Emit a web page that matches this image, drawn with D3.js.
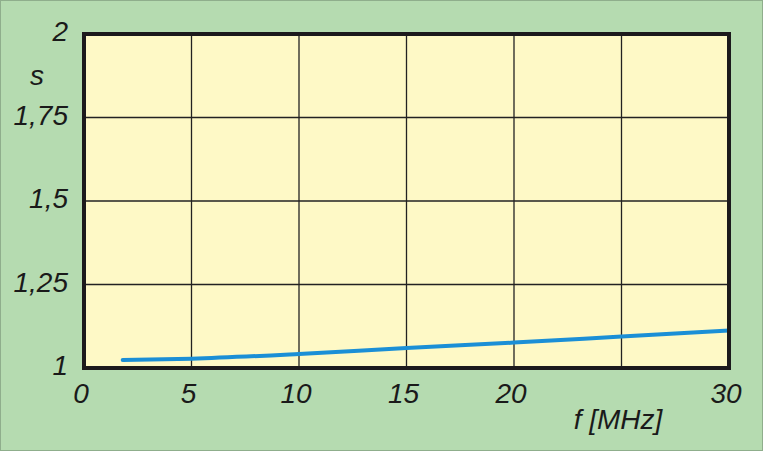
<!DOCTYPE html>
<html><head><meta charset="utf-8">
<script src="https://cdn.jsdelivr.net/npm/d3@7"></script>
<style>
html,body{margin:0;padding:0;background:#fff;}
svg{display:block;}
text{font-family:"Liberation Sans",Arial,sans-serif;font-style:italic;fill:#1a1a1a;}
</style></head><body>
<svg id="c" width="763" height="451"></svg>
<script>
const xTicks = [0, 5, 10, 15, 20, 30];
const xGrid = [5, 10, 15, 20, 25];
const yTicks = [1, 1.25, 1.5, 1.75, 2];
const yLabels = ["1", "1,25", "1,5", "1,75", "2"];
const freq = [1.8, 5, 10, 15, 20, 25, 30];
const swr = [1.024, 1.028, 1.042, 1.060, 1.076, 1.094, 1.112];

const W = 763, H = 451;
const svg = d3.select("#c");
svg.append("rect").attr("x",0.5).attr("y",0.5).attr("width",W-1).attr("height",H-1)
  .attr("fill","#b5dbb0").attr("stroke","#8fae8c").attr("stroke-width",1);

const x = d3.scaleLinear().domain([0,30]).range([84,729]);
const y = d3.scaleLinear().domain([1,2]).range([368,34]);

svg.append("rect").attr("x",x(0)).attr("y",y(2)).attr("width",x(30)-x(0)).attr("height",y(1)-y(2))
  .attr("fill","#fef9c6");

const g = svg.append("g");
g.selectAll("line.vx").data(xGrid).join("line")
  .attr("x1",d=>x(d)).attr("x2",d=>x(d)).attr("y1",y(2)).attr("y2",y(1))
  .attr("stroke","#222").attr("stroke-width",1.3);
g.selectAll("line.hy").data(yTicks.slice(1,4)).join("line")
  .attr("y1",d=>y(d)).attr("y2",d=>y(d)).attr("x1",x(0)).attr("x2",x(30))
  .attr("stroke","#222").attr("stroke-width",1.3);

const line = d3.line().x((d,i)=>x(freq[i])).y(d=>y(d)).curve(d3.curveMonotoneX);
svg.append("path").datum(swr).attr("d",line).attr("fill","none")
  .attr("stroke","#1b8fd6").attr("stroke-width",4).attr("stroke-linecap","round");

svg.append("rect").attr("x",x(0)).attr("y",y(2)).attr("width",x(30)-x(0)).attr("height",y(1)-y(2))
  .attr("fill","none").attr("stroke","#1c1a1c").attr("stroke-width",4);

svg.selectAll("text.yl").data(yTicks).join("text")
  .attr("x",68).attr("y",d=>y(d)+7).attr("text-anchor","end")
  .attr("font-size",28).text((d,i)=>yLabels[i]);

svg.selectAll("text.xl").data(xTicks).join("text")
  .attr("x",d=>x(d)-3).attr("y",403).attr("text-anchor","middle")
  .attr("font-size",28).text(d=>d);

svg.append("text").attr("x",37).attr("y",85).attr("text-anchor","middle").attr("font-size",28).text("s");
svg.append("text").attr("x",618).attr("y",429).attr("text-anchor","middle").attr("font-size",28).text("f [MHz]");
</script></body></html>
